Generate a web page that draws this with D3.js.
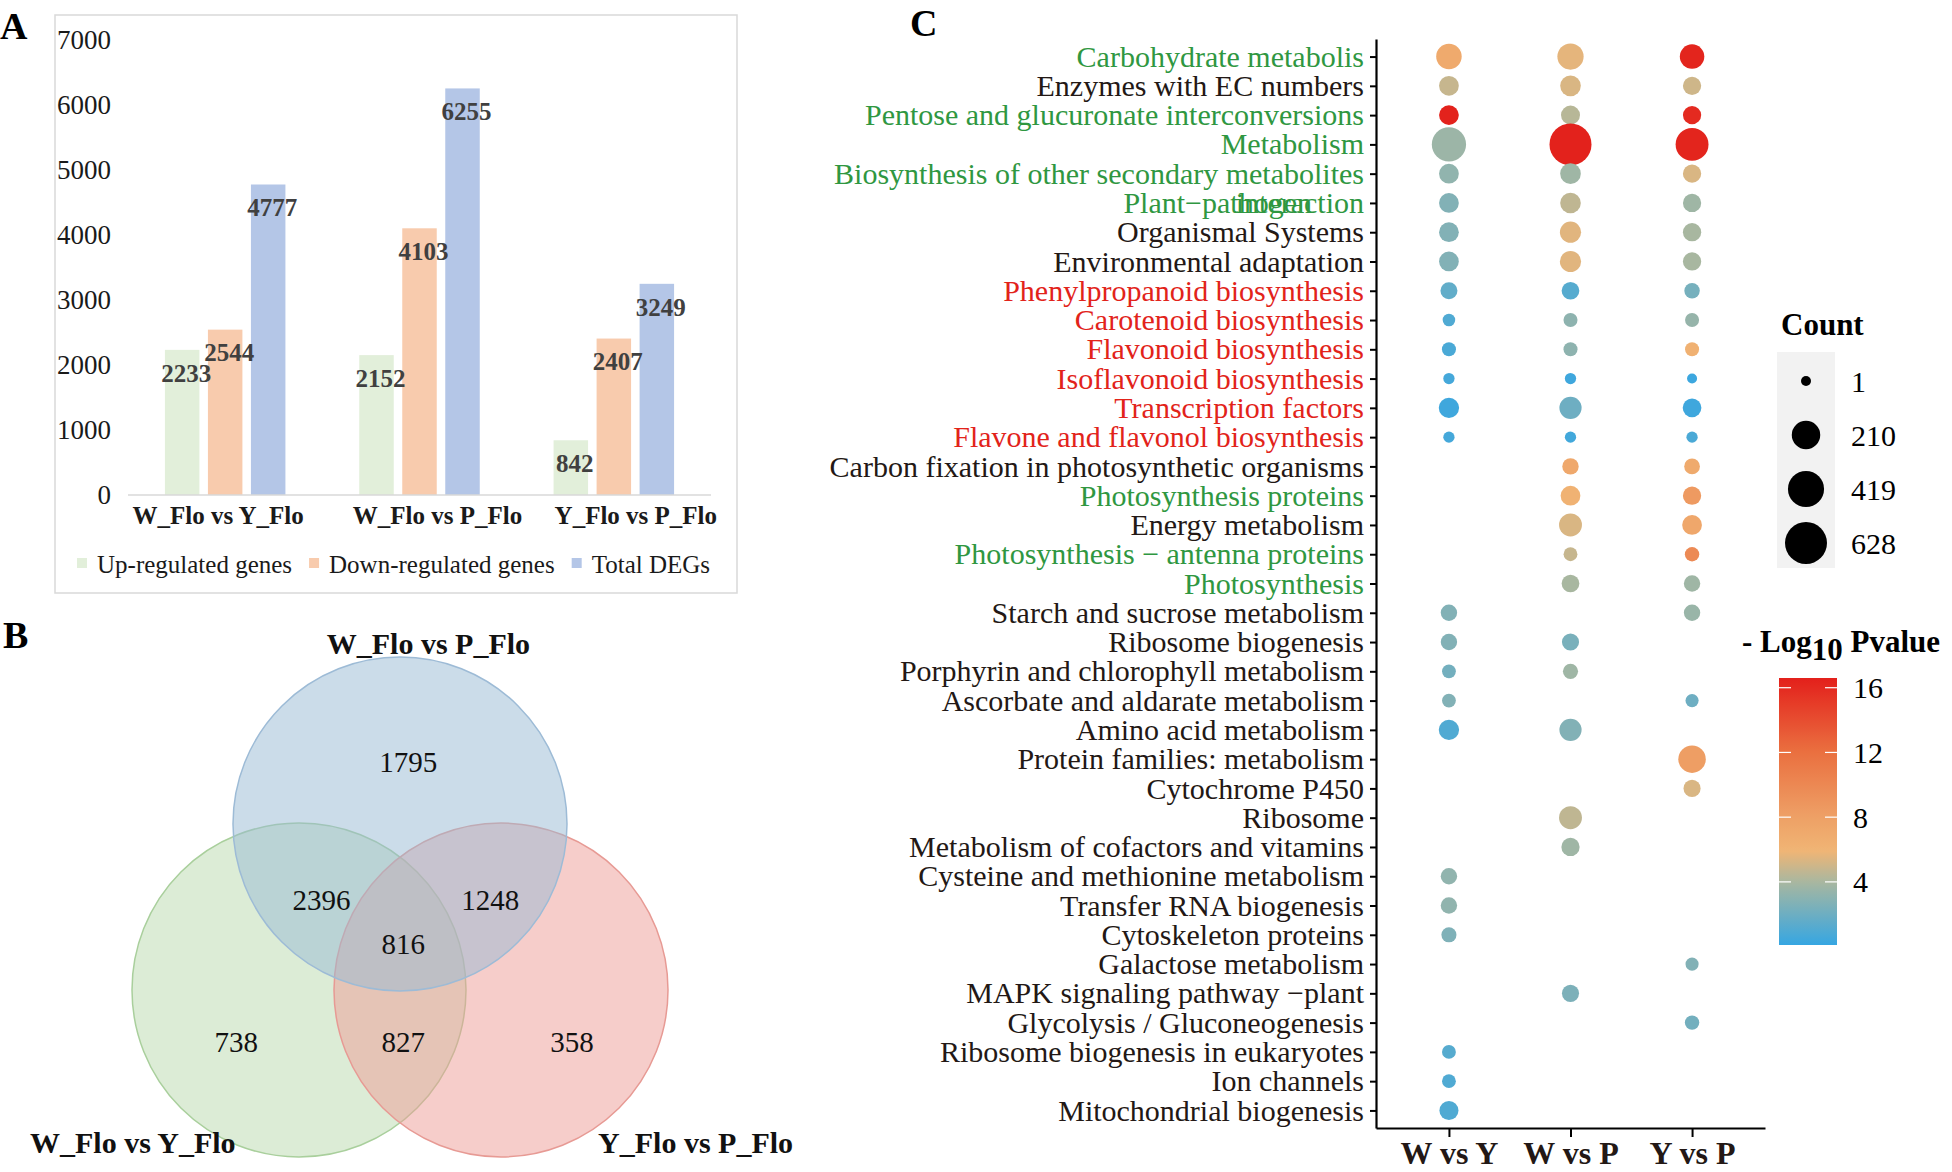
<!DOCTYPE html>
<html><head><meta charset="utf-8">
<script src="https://cdn.jsdelivr.net/npm/d3@7"></script>
<style>
body{margin:0;background:#fff}
svg{display:block}
text{font-family:"Liberation Serif","Times New Roman",serif}
</style>
</head><body>
<svg id="chart" width="1952" height="1172"></svg>
<script>
// ================= DATA =================
// Panel A: DEG counts
const degComparisons = ["W_Flo vs Y_Flo", "W_Flo vs P_Flo", "Y_Flo vs P_Flo"];
const degSeries = ["Up-regulated genes", "Down-regulated genes", "Total DEGs"];
const upRegulated = [2233, 2152, 842];
const downRegulated = [2544, 4103, 2407];
const totalDEGs = [4777, 6255, 3249];
const barTicks = [0, 1000, 2000, 3000, 4000, 5000, 6000, 7000];

// Panel B: Venn
const vennSetNames = ["W_Flo vs P_Flo", "W_Flo vs Y_Flo", "Y_Flo vs P_Flo"];
const vennRegionKeys = ["P", "PY", "PX", "PYX", "Y", "YX", "X"];
const vennRegionCounts = [1795, 2396, 1248, 816, 738, 827, 358];

// Panel C: KEGG bubble plot
const pathways = [
  "Carbohydrate metabolis", "Enzymes with EC numbers", "Pentose and glucuronate interconversions",
  "Metabolism", "Biosynthesis of other secondary metabolites", "Plant\u2212pathogen interaction",
  "Organismal Systems", "Environmental adaptation", "Phenylpropanoid biosynthesis",
  "Carotenoid biosynthesis", "Flavonoid biosynthesis", "Isoflavonoid biosynthesis",
  "Transcription factors", "Flavone and flavonol biosynthesis", "Carbon fixation in photosynthetic organisms",
  "Photosynthesis proteins", "Energy metabolism", "Photosynthesis \u2212 antenna proteins",
  "Photosynthesis", "Starch and sucrose metabolism", "Ribosome biogenesis",
  "Porphyrin and chlorophyll metabolism", "Ascorbate and aldarate metabolism", "Amino acid metabolism",
  "Protein families: metabolism", "Cytochrome P450", "Ribosome",
  "Metabolism of cofactors and vitamins", "Cysteine and methionine metabolism", "Transfer RNA biogenesis",
  "Cytoskeleton proteins", "Galactose metabolism", "MAPK signaling pathway \u2212plant",
  "Glycolysis / Gluconeogenesis", "Ribosome biogenesis in eukaryotes", "Ion channels",
  "Mitochondrial biogenesis"
];
const pathwayGroup = [
  "g","k","g","g","g","g","k","k","r","r","r","r","r","r","k","g","k","g","g",
  "k","k","k","k","k","k","k","k","k","k","k","k","k","k","k","k","k","k"
];
const comparisons = ["W vs Y", "W vs P", "Y vs P"];
const countWY = [148,59,59,361,59,59,59,59,31,5,11,2,66,2,null,null,null,null,null,26,26,10,10,66,null,null,null,null,26,26,17,null,null,null,10,10,51];
const countWP = [163,70,51,628,70,70,78,78,37,11,11,2,92,2,26,59,103,10,37,null,32,17,null,92,null,null,103,43,null,null,null,null,32,null,null,null,null];
const countYP = [130,43,43,322,43,43,43,43,19,11,11,1,47,2,21,43,59,13,26,26,null,null,7,null,188,32,null,null,null,null,null,7,null,13,null,null,null];
const logpWY = [7,4.8,16.5,3.6,3.2,2.7,2.7,2.7,1.6,1,0.8,0.6,0.4,0.6,null,null,null,null,null,2.7,2.7,2.2,2.7,1,null,null,null,null,3.2,3.2,2.6,null,null,null,1.2,1,1];
const logpWP = [5.6,5.3,4.4,16.5,3.7,4.6,5.5,5.5,1.2,3.1,3.1,0.4,2,0.5,7.2,6.2,5.3,4.8,4,null,2.4,3.7,null,2.7,null,null,4.6,3.7,null,null,null,null,2.5,null,null,null,null];
const logpYP = [16.3,5,16,16.3,5.3,3.7,4,4,2.3,3.4,6.3,0.3,0.4,0.8,7,8.5,7.3,9.8,3.7,3.5,null,null,2,null,8.2,5.3,null,null,null,null,null,2.7,null,2.2,null,null,null];
const countBreaks = [1, 210, 419, 628];
const logpBreaks = [4, 8, 12, 16];

// ================= DRAW =================
const svg = d3.select("#chart");
const serif = '"Liberation Serif","Times New Roman",serif';

// ---------- Panel A ----------
const gA = svg.append("g");
gA.append("rect").attr("x", 55).attr("y", 15).attr("width", 682).attr("height", 578)
  .attr("fill", "none").attr("stroke", "#d9d9d9").attr("stroke-width", 1.5);
gA.append("text").attr("x", 0).attr("y", 39).attr("font-size", 38).attr("font-weight", "bold").text("A");

const yA = d3.scaleLinear().domain([0, 7000]).range([495, 40]);
const xA = d3.scaleBand().domain(degComparisons).range([128, 711]);
const groupW = 120.5;
const x1 = d3.scaleBand().domain(degSeries)
  .range([(xA.bandwidth() - groupW) / 2, (xA.bandwidth() + groupW) / 2]).paddingInner(0.198);
const seriesColor = d3.scaleOrdinal().domain(degSeries).range(["#e2efda", "#f8cbad", "#b4c6e7"]);
const seriesVals = [upRegulated, downRegulated, totalDEGs];
const barData = degComparisons.flatMap((c, i) => degSeries.map((s, j) => ({ c, s, v: seriesVals[j][i] })));

gA.selectAll("text.ytick").data(barTicks).join("text").attr("class", "ytick")
  .attr("x", 111).attr("y", d => yA(d)).attr("dy", "0.35em").attr("text-anchor", "end")
  .attr("font-size", 27).attr("fill", "#1a1a1a").text(d => d);

gA.selectAll("rect.bar").data(barData).join("rect").attr("class", "bar")
  .attr("x", d => xA(d.c) + x1(d.s)).attr("width", x1.bandwidth())
  .attr("y", d => yA(d.v)).attr("height", d => yA(0) - yA(d.v))
  .attr("fill", d => seriesColor(d.s));

gA.append("line").attr("x1", 128).attr("x2", 711).attr("y1", yA(0)).attr("y2", yA(0))
  .attr("stroke", "#d9d9d9").attr("stroke-width", 1.5);

gA.selectAll("text.vlab").data(barData).join("text").attr("class", "vlab")
  .attr("x", d => xA(d.c) + x1(d.s) + x1.bandwidth() / 2 + 4)
  .attr("y", d => yA(d.v) + 23).attr("dy", "0.35em").attr("text-anchor", "middle")
  .attr("font-size", 25).attr("font-weight", "bold").attr("fill", "#404040").text(d => d.v);

const xLabelNudge = [-7, 18, 22];
gA.selectAll("text.xlab").data(degComparisons).join("text").attr("class", "xlab")
  .attr("x", (d, i) => xA(d) + xA.bandwidth() / 2 + xLabelNudge[i]).attr("y", 524)
  .attr("text-anchor", "middle").attr("font-size", 25).attr("font-weight", "bold")
  .attr("fill", "#1a1a1a").text(d => d);

// legend
let lx = 77;
degSeries.forEach(s => {
  gA.append("rect").attr("x", lx).attr("y", 558).attr("width", 10).attr("height", 10).attr("fill", seriesColor(s));
  const t = gA.append("text").attr("x", lx + 20).attr("y", 564).attr("dy", "0.35em")
    .attr("font-size", 25).attr("fill", "#1a1a1a").text(s);
  lx += 20 + t.node().getComputedTextLength() + 17;
});

// ---------- Panel B ----------
const gB = svg.append("g");
gB.append("text").attr("x", 3).attr("y", 648).attr("font-size", 38).attr("font-weight", "bold").text("B");
const vc = { x: 400, y: 907, r: 167, dx: 101, dy: 83 };
const vennCircles = [
  { name: vennSetNames[1], cx: vc.x - vc.dx, cy: vc.y + vc.dy, fill: "#b9d9ad", stroke: "#a9cf9c" },
  { name: vennSetNames[2], cx: vc.x + vc.dx, cy: vc.y + vc.dy, fill: "#ed9b95", stroke: "#e79a94" },
  { name: vennSetNames[0], cx: vc.x, cy: vc.y - vc.dy, fill: "#97b9d3", stroke: "#9dbbd6" }
];
gB.selectAll("circle.venn").data(vennCircles).join("circle").attr("class", "venn")
  .attr("cx", d => d.cx).attr("cy", d => d.cy).attr("r", vc.r)
  .attr("fill", d => d.fill).attr("fill-opacity", 0.5)
  .attr("stroke", d => d.stroke).attr("stroke-width", 1.5);

const regionPos = {
  P: [0.05, -0.87], PY: [-0.47, -0.04], PX: [0.54, -0.04], PYX: [0.02, 0.22],
  Y: [-0.98, 0.81], YX: [0.02, 0.81], X: [1.03, 0.81]
};
gB.selectAll("text.vnum").data(vennRegionKeys).join("text").attr("class", "vnum")
  .attr("x", k => vc.x + regionPos[k][0] * vc.r).attr("y", k => vc.y + regionPos[k][1] * vc.r)
  .attr("dy", "0.35em").attr("text-anchor", "middle").attr("font-size", 29).attr("fill", "#111")
  .text((k, i) => vennRegionCounts[i]);

const setLabelPos = [[0.17, -1.58], [-1.6, 1.41], [1.77, 1.41]];
gB.selectAll("text.vset").data(vennSetNames).join("text").attr("class", "vset")
  .attr("x", (d, i) => vc.x + setLabelPos[i][0] * vc.r).attr("y", (d, i) => vc.y + setLabelPos[i][1] * vc.r)
  .attr("dy", "0.35em").attr("text-anchor", "middle").attr("font-size", 30).attr("font-weight", "bold")
  .attr("fill", "#111").text(d => d);

// ---------- Panel C ----------
const gC = svg.append("g");
gC.append("text").attr("x", 910).attr("y", 36).attr("font-size", 38).attr("font-weight", "bold").text("C");

const xC = d3.scalePoint().domain(comparisons).range([1376, 1765]).padding(0.6);
const yC = d3.scalePoint().domain(pathways).range([39, 1128]).padding(0.6);
const rMin = 5, rMax = 21;
const countNorm = d3.scaleLinear().domain([1, 628]).range([0, 1]);
const rScale = v => rMin + (rMax - rMin) * Math.sqrt(Math.max(0, countNorm(v)));
const cbDomain = [0.1, 16.6];
const colorC = d3.scaleLinear().domain([0.1, 4, 5.9, 8, 12, 16.6])
  .range(["#36a6e2", "#a8b7a0", "#f0b575", "#eea066", "#ea7040", "#e3201b"]).clamp(true);
const groupColor = { g: "#2f9741", r: "#e2231a", k: "#231815" };

const countsBy = [countWY, countWP, countYP];
const logpBy = [logpWY, logpWP, logpYP];
const dots = [];
comparisons.forEach((c, j) => pathways.forEach((p, i) => {
  if (countsBy[j][i] != null) dots.push({ c, p, n: countsBy[j][i], lp: logpBy[j][i] });
}));

gC.selectAll("circle.dot").data(dots).join("circle").attr("class", "dot")
  .attr("cx", d => xC(d.c)).attr("cy", d => yC(d.p)).attr("r", d => rScale(d.n))
  .attr("fill", d => colorC(d.lp));

// y axis
const yAxisG = gC.append("g").attr("transform", "translate(1376,0)")
  .call(d3.axisLeft(yC).tickSize(6).tickPadding(6).tickSizeOuter(0));
yAxisG.select(".domain").attr("stroke", "#000").attr("stroke-width", 2.2);
yAxisG.selectAll(".tick line").attr("stroke", "#000").attr("stroke-width", 2);
yAxisG.selectAll(".tick text").attr("font-size", 30).attr("font-family", serif)
  .attr("fill", d => groupColor[pathwayGroup[pathways.indexOf(d)]]);
yAxisG.selectAll(".tick").filter(d => d === "Plant\u2212pathogen interaction").each(function () {
  const t = d3.select(this).select("text");
  t.text("Plant\u2212pathogen").attr("dx", -52);
  d3.select(this).append("text").attr("x", t.attr("x")).attr("dy", t.attr("dy"))
    .attr("text-anchor", "end").attr("font-size", 30).attr("font-family", serif)
    .attr("fill", groupColor.g).text("interaction");
});

// x axis
const xAxisG = gC.append("g").attr("transform", "translate(0,1128)")
  .call(d3.axisBottom(xC).tickSize(9).tickPadding(4).tickSizeOuter(0));
xAxisG.select(".domain").attr("stroke", "#000").attr("stroke-width", 2.2);
xAxisG.selectAll(".tick line").attr("stroke", "#000").attr("stroke-width", 2);
xAxisG.selectAll(".tick text").attr("font-size", 32).attr("font-weight", "bold")
  .attr("font-family", serif).attr("fill", "#231815");

// Count legend
gC.append("text").attr("x", 1781).attr("y", 335).attr("font-size", 31).attr("font-weight", "bold").text("Count");
gC.append("rect").attr("x", 1777).attr("y", 352).attr("width", 58).attr("height", 216).attr("fill", "#f2f2f2");
const legY = d3.scalePoint().domain(countBreaks).range([381, 543]);
gC.selectAll("circle.leg").data(countBreaks).join("circle").attr("class", "leg")
  .attr("cx", 1806).attr("cy", d => legY(d)).attr("r", d => rScale(d)).attr("fill", "#000");
gC.selectAll("text.leg").data(countBreaks).join("text").attr("class", "leg")
  .attr("x", 1851).attr("y", d => legY(d)).attr("dy", "0.35em").attr("font-size", 30).text(d => d);

// Colour legend
const title = gC.append("text").attr("x", 1742).attr("y", 652).attr("font-size", 31).attr("font-weight", "bold");
title.append("tspan").text("- Log");
title.append("tspan").attr("dy", 8).text("10");
title.append("tspan").attr("dy", -8).text(" Pvalue");

const cbY = d3.scaleLinear().domain(cbDomain).range([945, 678]);
const grad = svg.append("defs").append("linearGradient").attr("id", "cbgrad")
  .attr("x1", 0).attr("y1", 1).attr("x2", 0).attr("y2", 0);
d3.range(0, 1.0001, 0.025).forEach(t => {
  grad.append("stop").attr("offset", t).attr("stop-color", colorC(cbDomain[0] + t * (cbDomain[1] - cbDomain[0])));
});
gC.append("rect").attr("x", 1779).attr("y", 678).attr("width", 58).attr("height", 267).attr("fill", "url(#cbgrad)");
logpBreaks.forEach(b => {
  gC.append("line").attr("x1", 1779).attr("x2", 1791).attr("y1", cbY(b)).attr("y2", cbY(b)).attr("stroke", "#fff").attr("stroke-width", 1.2);
  gC.append("line").attr("x1", 1825).attr("x2", 1837).attr("y1", cbY(b)).attr("y2", cbY(b)).attr("stroke", "#fff").attr("stroke-width", 1.2);
});
gC.selectAll("text.cb").data(logpBreaks).join("text").attr("class", "cb")
  .attr("x", 1853).attr("y", d => cbY(d)).attr("dy", "0.35em").attr("font-size", 30).text(d => d);
</script>
</body></html>
